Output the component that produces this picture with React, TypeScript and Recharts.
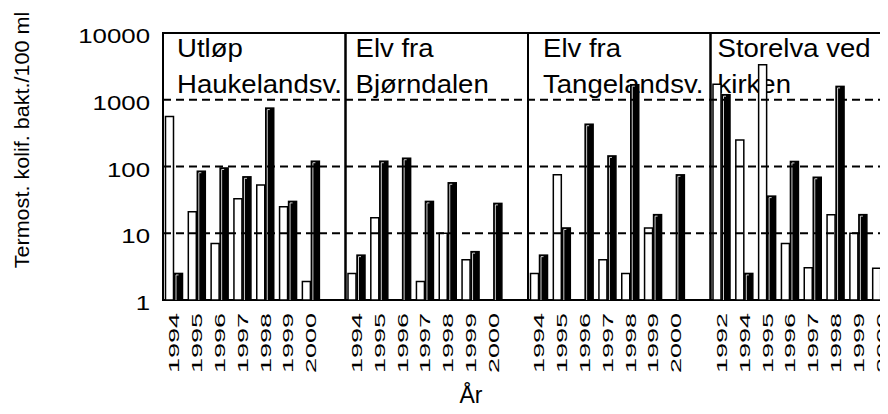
import { BarChart, Bar, XAxis, YAxis, ReferenceLine, ReferenceArea } from 'recharts'

// Termostabile koliforme bakterier per stasjon, to verdier per år
const years = ['1994', '1995', '1996', '1997', '1998', '1999', '2000']
const storelvaYears = ['1992', '1994', '1995', '1996', '1997', '1998', '1999', '2000']

const panelTitles = [
  ['Utløp', 'Haukelandsv.'],
  ['Elv fra', 'Bjørndalen'],
  ['Elv fra', 'Tangelandsv.'],
  ['Storelva ved', 'kirken'],
]

const haukelandOpen = [560, 21, 7, 33, 53, 25, 1.9]
const haukelandFilled = [2.5, 85, 95, 70, 750, 30, 120]
const bjorndalenOpen = [2.5, 17, null, 1.9, 10, 4, null]
const bjorndalenFilled = [4.7, 120, 133, 30, 57, 5.3, 28]
const tangelandOpen = [2.5, 75, null, 4, 2.5, 12, null]
const tangelandFilled = [4.7, 12, 430, 144, 1680, 19, 75]
const storelvaOpen = [1700, 250, 3350, 7, 3.05, 19, 10, 3]
const storelvaFilled = [1190, 2.5, 36, 119, 69, 1585, 19, 250]

const yTicks = [1, 10, 100, 1000, 10000]
const gridLevels = [10, 100, 1000]

const panels = [
  { years, open: haukelandOpen, filled: haukelandFilled },
  { years, open: bjorndalenOpen, filled: bjorndalenFilled },
  { years, open: tangelandOpen, filled: tangelandFilled },
  { years: storelvaYears, open: storelvaOpen, filled: storelvaFilled },
]

const SLOTS = 8
const data = panels.flatMap((p, pi) =>
  Array.from({ length: SLOTS }, (_, i) => ({
    key: `${pi}-${i}`,
    year: p.years[i] ?? '',
    open: p.open[i] ?? null,
    filled: p.filled[i] ?? null,
  }))
)
const yearByKey: Record<string, string> = Object.fromEntries(data.map((d) => [d.key, d.year]))

const FONT = '"Liberation Sans", Arial, sans-serif'
const WIDTH = 900
const HEIGHT = 414
const PLOT_LEFT = 163
const PLOT_RIGHT = 893
const PANEL_W = (PLOT_RIGHT - PLOT_LEFT) / panels.length
const titleOffsets = [14, 10, 15, 7]

const XTick = ({ x, y, payload }: any) => {
  const label = yearByKey[payload.value]
  if (!label) return null
  return (
    <text
      transform={`translate(${x + 5},${y + 13}) rotate(-90) scale(1.8,1)`}
      textAnchor="end"
      fontSize={15}
      fontFamily={FONT}
      fill="#000"
    >
      {label}
    </text>
  )
}

const YTick = ({ x, y, payload }: any) => (
  <text
    transform={`translate(${x},${y + 10}) scale(1.23,1)`}
    textAnchor="end"
    fontSize={21}
    fontFamily={FONT}
    fill="#000"
  >
    {payload.value}
  </text>
)

const FilledBar = ({ x, y, width, height }: any) => {
  if (!height || height <= 0) return null
  return (
    <g>
      <rect x={x} y={y} width={width} height={height} fill="#000" stroke="#000" strokeWidth={1.5} />
      <path
        d={`M${x + 1.5},${y + height} V${y + 1.5} H${x + width * 0.5}`}
        stroke="#fff"
        strokeWidth={0.8}
        fill="none"
      />
    </g>
  )
}

export default function App() {
  return (
    <div style={{ position: 'relative', width: 888, height: 414, margin: -8, overflow: 'hidden', background: '#fff' }}>
      {/* panel titles sit behind the bars */}
      <svg width={WIDTH} height={HEIGHT} style={{ position: 'absolute', left: 0, top: 0 }}>
        {panelTitles.map((lines, i) => {
          const px = PLOT_LEFT + i * PANEL_W + titleOffsets[i]
          return lines.map((line, j) => (
            <text
              key={`${i}-${j}`}
              transform={`translate(${px},${57 + j * 36}) scale(1.06,1)`}
              fontSize={26}
              fontFamily={FONT}
              fill="#000"
            >
              {line}
            </text>
          ))
        })}
      </svg>
      <div style={{ position: 'absolute', left: 0, top: 0 }}>
        <BarChart
          width={WIDTH}
          height={HEIGHT}
          data={data}
          margin={{ top: 33, right: WIDTH - PLOT_RIGHT, bottom: 0, left: 0 }}
          barCategoryGap={2.5}
          barGap={1}
        >
          <XAxis
            dataKey="key"
            type="category"
            interval={0}
            height={114}
            axisLine={false}
            tickLine={false}
            tickSize={0}
            tickMargin={0}
            tick={<XTick />}
            label={{
              content: () => (
                <text x={471} y={403} textAnchor="middle" fontSize={23} fontFamily={FONT} fill="#000">
                  År
                </text>
              ),
            }}
          />
          <YAxis
            type="number"
            scale="log"
            domain={[1, 10000]}
            ticks={yTicks}
            allowDataOverflow
            width={PLOT_LEFT}
            axisLine={false}
            tickLine={false}
            tickSize={0}
            tickMargin={13}
            tick={<YTick />}
            label={{
              content: () => (
                <text
                  transform="translate(29,140) rotate(-90) scale(1.08,1)"
                  textAnchor="middle"
                  fontSize={20}
                  fontFamily={FONT}
                  fill="#000"
                >
                  Termost. kolif. bakt./100 ml
                </text>
              ),
            }}
          />
          {panels.map((_, i) => (
            <ReferenceArea
              key={i}
              x1={`${i}-0`}
              x2={`${i}-${SLOTS - 1}`}
              y1={1}
              y2={10000}
              fill="#fff"
              fillOpacity={0}
              stroke="#000"
              strokeWidth={2}
            />
          ))}
          <Bar dataKey="open" fill="#fff" stroke="#000" strokeWidth={1.5} isAnimationActive={false} />
          <Bar dataKey="filled" fill="#000" shape={<FilledBar />} isAnimationActive={false} />
          {gridLevels.map((v) => (
            <ReferenceLine key={v} y={v} stroke="#000" strokeWidth={1.8} strokeDasharray="8 5" />
          ))}
        </BarChart>
      </div>
    </div>
  )
}
